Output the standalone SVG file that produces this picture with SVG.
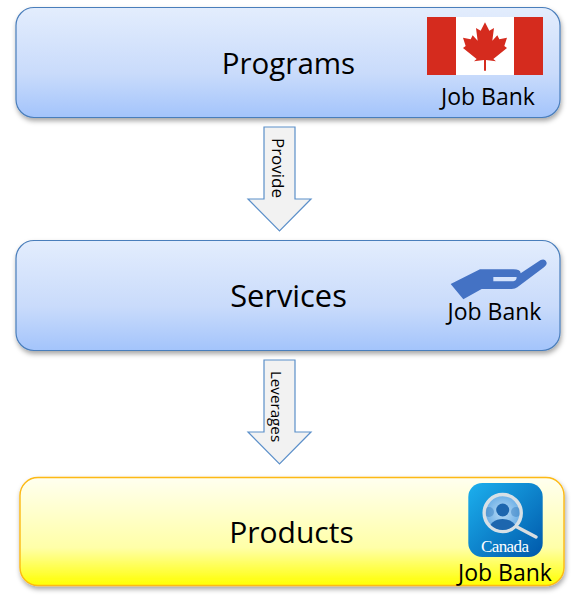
<svg xmlns="http://www.w3.org/2000/svg" width="573" height="599" viewBox="0 0 573 599">
<style>
text{font-family:"Open Sans","Noto Sans","Liberation Sans",sans-serif;fill:#000}
.t{font-size:29.500px;text-anchor:middle}
.j{font-size:23px;text-anchor:middle}
.blue{fill:url(#b);stroke:#4a7ebb;stroke-width:1.2}
.yel{fill:url(#y);stroke:#fdb913;stroke-width:1.4}
.ar{fill:#f2f2f2;stroke:#5b8fc9;stroke-width:1.2;stroke-linejoin:miter}
.al{text-anchor:middle}
</style>
<defs>
<linearGradient id="b" x1="0" y1="0" x2="0" y2="1"><stop offset="0" stop-color="#e3edfd"/><stop offset=".6" stop-color="#c9dbfb"/><stop offset="1" stop-color="#a3c4fb"/></linearGradient>
<linearGradient id="y" x1="0" y1="0" x2="0" y2="1"><stop offset="0" stop-color="#fffff0"/><stop offset=".65" stop-color="#ffffa8"/><stop offset="1" stop-color="#ffff00"/></linearGradient>
<linearGradient id="ic" x1="0" y1="0" x2="1" y2="1"><stop offset="0" stop-color="#1cb0ee"/><stop offset="1" stop-color="#0058aa"/></linearGradient>
<radialGradient id="lens" cx=".5" cy=".5" r=".5"><stop offset="0" stop-color="#b8daf5"/><stop offset="1" stop-color="#6aaee6"/></radialGradient>
<filter id="s" x="-5%" y="-10%" width="110%" height="125%"><feDropShadow dx="1" dy="3" stdDeviation="2.5" flood-color="#000" flood-opacity=".35"/></filter>
<clipPath id="lc"><circle cx="502.700" cy="513" r="17"/></clipPath>
</defs>
<rect width="573" height="599" fill="#fff"/>
<g id="connectors">
<g id="arrow-provide"><path class="ar" d="M264 127H295V199H311L279.500 231L248 199H264Z"/><text class="al" transform="translate(278.500 168) rotate(90)" dominant-baseline="central" style="font-size:17px">Provide</text></g>
<g id="arrow-leverages"><path class="ar" d="M264 360H295V432H311L279.500 464L248 432H264Z"/><text class="al" transform="translate(277 406.500) rotate(90)" dominant-baseline="central" style="font-size:15.200px">Leverages</text></g>
</g>
<g id="programs">
<rect class="blue" x="16" y="7.500" width="544" height="110" rx="18" filter="url(#s)"/>
<text class="t" x="288.500" y="73.500">Programs</text>
<rect x="427" y="17" width="116" height="58" fill="#fff"/>
<rect x="427" y="17" width="29" height="58" fill="#d52b1e"/>
<rect x="514" y="17" width="29" height="58" fill="#d52b1e"/>
<path fill="#d52b1e" transform="translate(410 0) scale(.3333)" d="M225 67L238 92L252 84L247 122L262 106L268 118L291 113L283 138L291 144L250 177L258 184L228 180V212H222V180L192 184L200 177L159 144L167 138L159 113L182 118L188 106L203 122L198 84L212 92Z"/>
<text class="j" x="488" y="105">Job Bank</text>
</g>
<g id="services">
<rect class="blue" x="16" y="240.500" width="544" height="110" rx="18" filter="url(#s)"/>
<text class="t" x="288.500" y="306.500" style="font-size:30.800px">Services</text>
<path fill="#4472c4" fill-rule="evenodd" transform="translate(430 240) scale(.3333)" d="M62 132L150 88L250 88Q272 88 272 100L332 60Q345 54 350 68Q351 76 342 82L262 142Q256 147 245 147L155 147L100 178ZM190 111V124H250Q260 122 260 111Z"/>
<text class="j" x="494.500" y="320">Job Bank</text>
</g>
<g id="products">
<rect class="yel" x="20" y="477.500" width="544" height="108" rx="18" filter="url(#s)"/>
<text class="t" x="291.500" y="542.500" style="font-size:30px">Products</text>
<rect x="468.300" y="483" width="74.400" height="74" rx="14" fill="url(#ic)"/>
<line x1="517" y1="527" x2="536" y2="537" stroke="#d9dde0" stroke-width="3.500" stroke-linecap="round"/>
<circle cx="502.700" cy="513" r="18.500" fill="url(#lens)" stroke="#d7e0e6" stroke-width="3.500"/>
<g clip-path="url(#lc)" fill="#1d66ae"><circle cx="489" cy="512" r="5" opacity=".35"/><circle cx="516" cy="512" r="5" opacity=".35"/><circle cx="502.700" cy="510" r="6.500"/><ellipse cx="502.700" cy="530" rx="14" ry="11"/></g>
<text x="505" y="552" text-anchor="middle" textLength="48" style="font-family:'Liberation Serif',serif;fill:#fff;font-size:17px">Canada</text>
<text class="j" x="505" y="581">Job Bank</text>
</g>
</svg>
